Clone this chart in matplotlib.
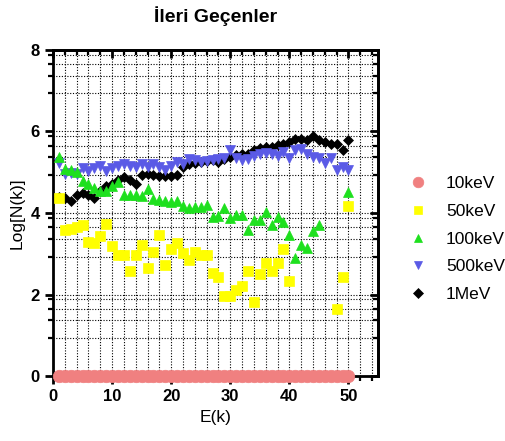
import numpy as np
import matplotlib.pyplot as plt

plt.rcParams['font.family'] = ['Liberation Sans', 'DejaVu Sans']

nan = np.nan
energy = np.arange(1, 51)

log_10kev = [0.0] * 50
log_50kev = [4.36, 3.58, 3.60, 3.65, 3.70, 3.30, 3.27, 3.44, 3.73, 3.19,
             2.97, 2.97, 2.58, 2.97, 3.21, 2.64, 3.05, 3.46, 2.72, 3.11,
             3.26, 3.03, 2.85, 3.05, 2.97, 2.97, 2.52, 2.42, 1.96, 1.96,
             2.11, 2.21, 2.58, 1.82, 2.50, 2.78, 2.58, 2.78, 3.11, 2.34,
             nan, nan, nan, nan, nan, nan, nan, 1.64, 2.42, 4.17]
log_100kev = [5.38, 5.08, 5.05, 5.00, 4.78, 4.70, 4.62, 4.55, 4.55, 4.65,
              4.75, 4.45, 4.45, 4.45, 4.42, 4.58, 4.35, 4.33, 4.30, 4.28,
              4.30, 4.18, 4.12, 4.15, 4.15, 4.20, 3.91, 3.93, 4.12, 3.87,
              3.95, 3.95, 3.58, 3.83, 3.83, 4.03, 3.71, 3.91, 3.79, 3.46,
              2.89, 3.21, 3.13, 3.57, 3.71, nan, nan, nan, nan, 4.52]
log_500kev = [5.22, 4.95, 4.98, 4.95, 5.10, 5.02, 5.10, 5.14, 5.02, 5.10,
              5.15, 5.20, 5.15, 5.12, 5.20, 5.12, 5.20, 5.12, 5.05, 5.15,
              5.26, 5.20, 5.32, 5.30, 5.25, 5.28, 5.30, 5.33, 5.35, 5.55,
              5.35, 5.30, 5.32, 5.40, 5.45, 5.48, 5.45, 5.40, 5.50, 5.36,
              5.55, 5.58, 5.45, 5.38, 5.35, 5.22, 5.35, 5.05, 5.12, 5.05]
log_1mev = [4.40, 4.36, 4.30, 4.45, 4.50, 4.45, 4.38, 4.55, 4.65, 4.72,
            4.82, 4.88, 4.80, 4.72, 4.93, 4.95, 4.92, 4.90, 4.90, 4.90,
            4.92, 5.12, 5.20, 5.22, 5.25, 5.28, 5.30, 5.25, 5.33, 5.38,
            5.42, 5.45, 5.45, 5.55, 5.60, 5.62, 5.62, 5.67, 5.70, 5.75,
            5.82, 5.82, 5.78, 5.88, 5.78, 5.74, 5.70, 5.68, 5.55, 5.78]

series_labels = ['10keV', '50keV', '100keV', '500keV', '1MeV']

x_major = [0, 10, 20, 30, 40, 50]
y_major = [0, 2, 4, 6, 8]

# Prism-style uneven minor ticks inside each 2-unit step
minor_offsets = [0.93, 1.37, 1.65, 1.88]

fig = plt.figure(figsize=(5.05, 4.41), dpi=100)
ax = fig.add_axes([0.105, 0.147, 0.6435, 0.74])

styles = [
    dict(marker='o', color='#F08080', ms=9),
    dict(marker='s', color='#FFFF00', ms=7),
    dict(marker='^', color='#1EE01E', ms=7.5),
    dict(marker='v', color='#5A5AE6', ms=7.5),
    dict(marker='D', color='black', ms=5.5),
]
data = [log_10kev, log_50kev, log_100kev, log_500kev, log_1mev]

for i, (vals, st, lab) in enumerate(zip(data, styles, series_labels)):
    ax.plot(energy, vals, linestyle='none', marker=st['marker'],
            markersize=st['ms'], markerfacecolor=st['color'],
            markeredgecolor=st['color'], markeredgewidth=0.5,
            label=lab, zorder=10 - i, clip_on=False)

ax.set_xlim(0, 55)
ax.set_ylim(0, 8)

y_minor = [2 * k + o for k in range(4) for o in minor_offsets]
x_minor = [v for v in range(0, 56, 2) if v % 10 != 0]

ax.set_xticks(x_major)
ax.set_xticks(x_minor, minor=True)
ax.set_yticks(y_major)
ax.set_yticks(y_minor, minor=True)

ax.grid(True, which='both', linestyle=(0, (1, 1.5)), linewidth=0.8,
        color='black')
ax.set_axisbelow(True)

for s in ax.spines.values():
    s.set_linewidth(2)

ax.tick_params(axis='both', which='major', direction='out', length=6,
               width=2, labelsize=12)
ax.tick_params(axis='both', which='minor', direction='out', length=3.5,
               width=1.6)
for lbl in ax.get_xticklabels() + ax.get_yticklabels():
    lbl.set_fontweight('bold')

# inward ticks along the top and right frame
top = ax.secondary_xaxis('top')
top.set_xticks(x_major)
top.set_xticks(x_minor, minor=True)
top.tick_params(which='major', direction='in', length=6, width=2,
                labeltop=False)
top.tick_params(which='minor', direction='in', length=3.5, width=1.6)
top.spines['top'].set_linewidth(2)

right = ax.secondary_yaxis('right')
right.set_yticks(y_major)
right.set_yticks(y_minor, minor=True)
right.tick_params(which='major', direction='in', length=6, width=2,
                  labelright=False)
right.tick_params(which='minor', direction='in', length=3.5, width=1.6)
right.spines['right'].set_linewidth(2)

ax.set_xlabel('E(k)', fontsize=12.5, labelpad=4)
ax.set_ylabel('Log[N(k)]', fontsize=12.5, labelpad=4)
ax.set_title('İleri Geçenler', fontsize=14, fontweight='bold', pad=20)

ax.legend(loc='center left', bbox_to_anchor=(0.787, 0.458),
          bbox_transform=fig.transFigure, frameon=False, fontsize=12.5,
          handletextpad=1.1, labelspacing=0.72, handlelength=1.0,
          borderpad=0.2, markerscale=0.85)

fig.savefig('out.png', dpi=100)
